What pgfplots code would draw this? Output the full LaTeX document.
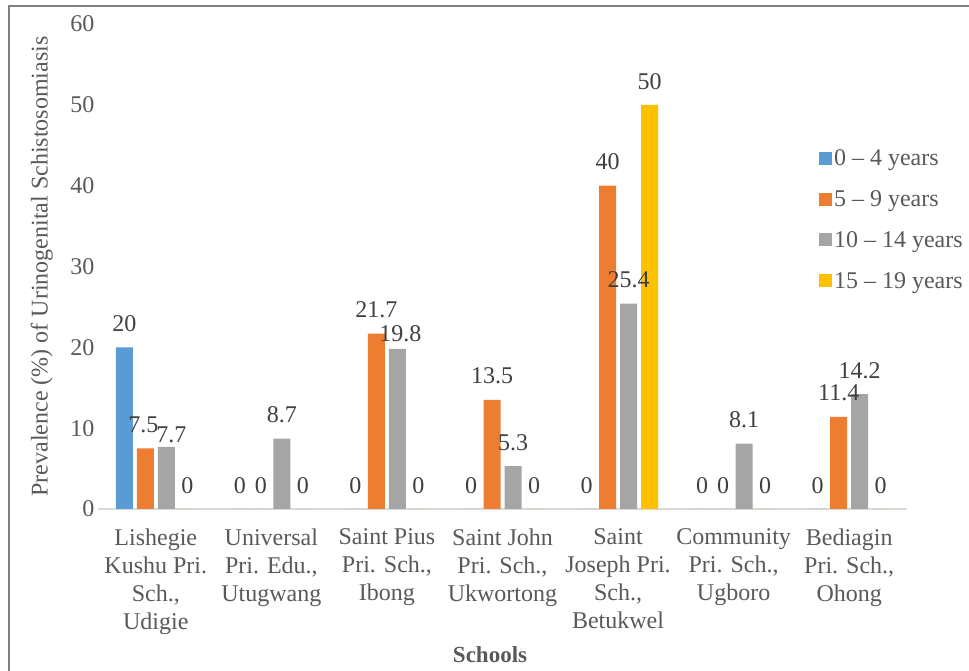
\documentclass[border=0pt]{standalone}
\usepackage{pgfplots}
\pgfplotsset{compat=1.18}
\usepackage{fontspec}
\setmainfont{Liberation Serif}

\definecolor{cblue}{HTML}{5B9BD5}
\definecolor{corange}{HTML}{ED7D31}
\definecolor{cgray}{HTML}{A5A5A5}
\definecolor{cyellow}{HTML}{FFC000}
\definecolor{txtgray}{HTML}{595959}
\definecolor{lblgray}{HTML}{404040}

\begin{document}
\begin{tikzpicture}[x=1pt,y=1pt]
  \useasboundingbox (0,0) rectangle (969,671);
  % chart frame (only top and left edges show)
  \draw[color=gray, line width=2pt] (8.5,-5) -- (8.5,664.5) -- (975,664.5);

  \begin{axis}[
      at={(98pt,162pt)}, anchor=south west,
      scale only axis,
      width=809pt, height=485pt,
      ybar=4pt, bar width=17pt,
      ymin=0, ymax=60, ytick={0,10,...,60},
      xmin=-0.5, xmax=6.5, enlarge x limits=false,
      xtick={0,...,6},
      xticklabels={
        {Lishegie\\Kushu Pri.\\Sch.,\\Udigie},
        {Universal\\Pri. Edu.,\\Utugwang},
        {Saint Pius\\Pri. Sch.,\\Ibong},
        {Saint John\\Pri. Sch.,\\Ukwortong},
        {Saint\\Joseph Pri.\\Sch.,\\Betukwel},
        {Community\\Pri. Sch.,\\Ugboro},
        {Bediagin\\Pri. Sch.,\\Ohong}},
      major tick length=0pt,
      axis x line*=bottom, axis y line*=left,
      x axis line style={draw=black!15, line width=1.2pt},
      y axis line style={draw=none},
      /pgf/number format/assume math mode=true,
      xticklabel style={align=center, text=txtgray,
        font=\fontsize{24}{28}\selectfont, yshift=-16pt},
      yticklabel style={text=txtgray, font=\fontsize{24}{28}\selectfont},
      xlabel={\bfseries Schools},
      xlabel style={at={(axis description cs:0.4846,-0.3175)}, anchor=base,
        text=txtgray, font=\fontsize{23}{28}\selectfont},
      ylabel={Prevalence (\%) of Urinogenital Schistosomiasis},
      ylabel style={at={(axis description cs:-0.0695,0.5)}, anchor=center,
        text=txtgray, font=\fontsize{24}{28}\selectfont},
      nodes near coords,
      nodes near coords style={text=lblgray, font=\fontsize{24}{28}\selectfont,
        yshift=12pt},
      legend style={at={(rel axis cs:0.891,0.745)}, anchor=north west,
        draw=none, fill=none, text=txtgray,
        font=\fontsize{24}{28}\selectfont, row sep=19.5pt,
        inner sep=0pt,
        nodes={inner xsep=2pt}},
      legend cell align=left,
      legend image code/.code={\fill[#1] (0pt,-6pt) rectangle (13pt,7pt);},
      clip=false,
    ]
    \addplot[fill=cblue, draw=none] coordinates {
      (0,20) (1,0) (2,0) (3,0) (4,0) (5,0) (6,0)};
    \addlegendentry{0 -- 4 years}
    % dx, dy: label offsets (pt) where the labels sit tight in the original
    \addplot[fill=corange, draw=none,
      visualization depends on=value \thisrow{dx}\as\dx,
      nodes near coords style={xshift=\dx pt}]
      table[x=x, y=y] {
      x  y     dx
      0  7.5   -2
      1  0     0
      2  21.7  0
      3  13.5  0
      4  40    0
      5  0     0
      6  11.4  0
    };
    \addlegendentry{5 -- 9 years}
    \addplot[fill=cgray, draw=none,
      visualization depends on=value \thisrow{dx}\as\dx,
      visualization depends on=value \thisrow{dy}\as\dy,
      nodes near coords style={xshift=\dx pt, yshift=\dy pt}]
      table[x=x, y=y] {
      x  y     dx  dy
      0  7.7   5   -12
      1  8.7   0   0
      2  19.8  3   -8
      3  5.3   0   0
      4  25.4  0   0
      5  8.1   0   0
      6  14.2  0   0
    };
    \addlegendentry{10 -- 14 years}
    \addplot[fill=cyellow, draw=none] coordinates {
      (0,0) (1,0) (2,0) (3,0) (4,50) (5,0) (6,0)};
    \addlegendentry{15 -- 19 years}
  \end{axis}
\end{tikzpicture}
\end{document}
